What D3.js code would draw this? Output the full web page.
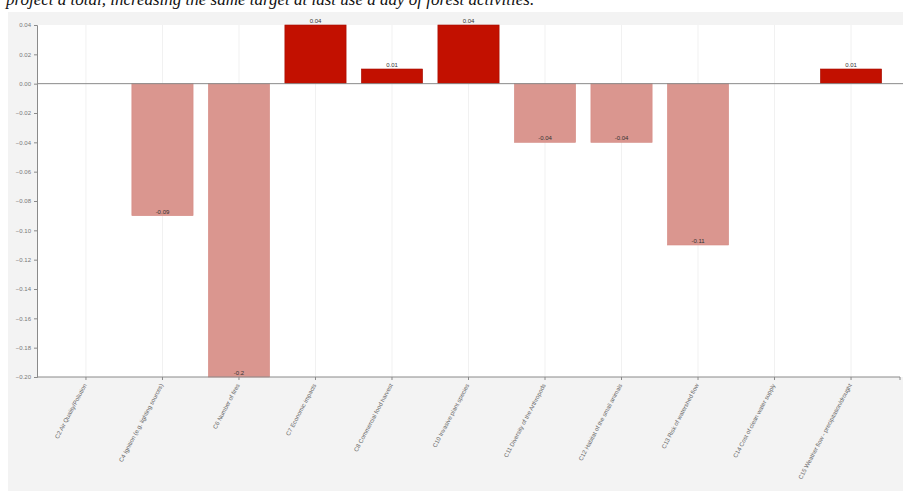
<!DOCTYPE html>
<html>
<head>
<meta charset="utf-8">
<script src="https://cdn.jsdelivr.net/npm/d3@7"></script>
<style>
  html, body { margin: 0; padding: 0; background: #ffffff; }
  svg { display: block; }
</style>
</head>
<body>
<svg id="chart" width="903" height="491"></svg>
<script>
// Criteria and their change scores
const categories = [
  "C2 Air Quality/Pollution",
  "C4 Ignition (e.g. lighting sources)",
  "C6 Number of fires",
  "C7 Economic impacts",
  "C8 Commercial food harvest",
  "C10 Invasive plant species",
  "C11 Diversity of the Arthropods",
  "C12 Habitat of the small animals",
  "C13 Risk of watershed flow",
  "C14 Cost of clean water supply",
  "C15 Weather flow - precipitation/drought"
];
const values = [0, -0.09, -0.2, 0.04, 0.01, 0.04, -0.04, -0.04, -0.11, 0, 0.01];
const valueLabels = ["", "-0.09", "-0.2", "0.04", "0.01", "0.04", "-0.04", "-0.04", "-0.11", "", "0.01"];
const yTicks = [0.04, 0.02, 0.00, -0.02, -0.04, -0.06, -0.08, -0.10, -0.12, -0.14, -0.16, -0.18, -0.20];
const captionText = "project a total, increasing the same target at last use a day of forest activities.";

const svg = d3.select("#chart");
const W = 903, H = 491;
const plot = { left: 37, right: 903, top: 25, bottom: 377 };

// caption line running off the top edge
svg.append("text")
  .attr("x", 6).attr("y", 5)
  .attr("font-family", "Liberation Serif, serif")
  .attr("font-style", "italic")
  .attr("font-size", 17)
  .attr("fill", "#111")
  .text(captionText);

// chart panel
svg.append("rect")
  .attr("x", 8).attr("y", 12)
  .attr("width", W - 8).attr("height", H - 12)
  .attr("fill", "#f3f3f3");

svg.append("rect")
  .attr("x", plot.left).attr("y", plot.top)
  .attr("width", plot.right - plot.left).attr("height", plot.bottom - plot.top)
  .attr("fill", "#ffffff");

const x = d3.scaleBand()
  .domain(categories)
  .range([plot.left, 900])
  .paddingInner(0.2)
  .paddingOuter(0.24);

const y = d3.scaleLinear()
  .domain([-0.2, 0.04])
  .range([plot.bottom, plot.top]);

// faint vertical grid at category centres
svg.append("g")
  .selectAll("line")
  .data(categories)
  .join("line")
  .attr("x1", d => x(d) + x.bandwidth() / 2)
  .attr("x2", d => x(d) + x.bandwidth() / 2)
  .attr("y1", plot.top).attr("y2", plot.bottom)
  .attr("stroke", "#f1f1f1")
  .attr("stroke-width", 1);

// bars
svg.append("g")
  .selectAll("rect")
  .data(values.map((v, i) => ({ c: categories[i], v })).filter(d => d.v !== 0))
  .join("rect")
  .attr("x", d => x(d.c))
  .attr("width", x.bandwidth())
  .attr("y", d => y(Math.max(0, d.v)))
  .attr("height", d => Math.abs(y(d.v) - y(0)))
  .attr("fill", d => d.v > 0 ? "#c21000" : "#da968f")
  .attr("stroke", d => d.v > 0 ? "#a50d00" : "#d58a83")
  .attr("stroke-width", 0.6);

// zero line
svg.append("line")
  .attr("x1", plot.left).attr("x2", plot.right)
  .attr("y1", y(0)).attr("y2", y(0))
  .attr("stroke", "#8a8a8a").attr("stroke-width", 1);

// value labels at the end of each bar
svg.append("g")
  .selectAll("text")
  .data(values.map((v, i) => ({ c: categories[i], v, t: valueLabels[i] })).filter(d => d.t !== ""))
  .join("text")
  .attr("x", d => x(d.c) + x.bandwidth() / 2)
  .attr("y", d => y(d.v) - 2)
  .attr("text-anchor", "middle")
  .attr("font-family", "Liberation Sans, Arial, sans-serif")
  .attr("font-size", 6)
  .attr("fill", "#333")
  .text(d => d.t);

// y axis
const yAxis = d3.axisLeft(y)
  .tickValues(yTicks)
  .tickSize(3)
  .tickPadding(3)
  .tickFormat(d3.format(".2f"));

const gy = svg.append("g")
  .attr("transform", `translate(${plot.left},0)`)
  .call(yAxis);
gy.select(".domain").attr("stroke", "#8a8a8a");
gy.selectAll(".tick line").attr("stroke", "#8a8a8a");
gy.selectAll(".tick text")
  .attr("font-family", "Liberation Sans, Arial, sans-serif")
  .attr("font-size", 6)
  .attr("fill", "#777");

// x axis at the bottom of the plot
const xAxis = d3.axisBottom(x).tickSize(3).tickSizeOuter(3);
const gx = svg.append("g")
  .attr("transform", `translate(0,${plot.bottom})`)
  .call(xAxis);
gx.select(".domain").attr("stroke", "#8a8a8a").attr("d", `M${plot.left},0H${900}V3`);
gx.selectAll(".tick line").attr("stroke", "#8a8a8a");
gx.selectAll(".tick text")
  .attr("font-family", "Liberation Sans, Arial, sans-serif")
  .attr("font-size", 6)
  .attr("fill", "#666")
  .attr("text-anchor", "end")
  .attr("dy", null)
  .attr("transform", "translate(1,8) rotate(-62)")
  .attr("x", 0).attr("y", 0);
</script>
</body>
</html>
